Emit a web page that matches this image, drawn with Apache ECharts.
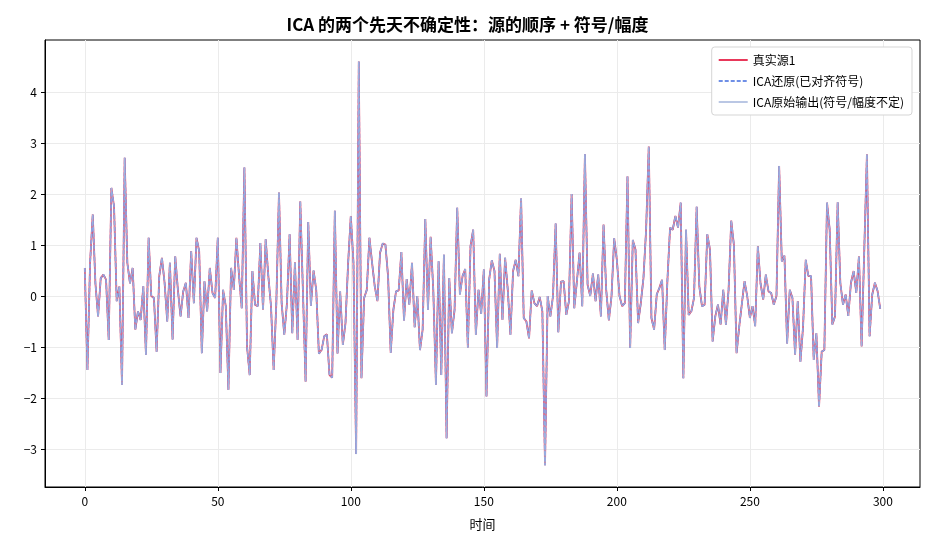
<!DOCTYPE html>
<html>
<head>
<meta charset="utf-8">
<script src="https://cdn.jsdelivr.net/npm/echarts@6/dist/echarts.min.js"></script>
<style>
  html, body { margin: 0; padding: 0; background: #fff; }
  #chart { width: 935px; height: 550px; }
</style>
</head>
<body>
<div id="chart"></div>
<script>
// values; the three curves lie on top of each other there
const trueSource = [
  0.55, -1.45, 0.65, 1.6, 0.25, -0.4, 0.35, 0.42, 0.32, -0.86,
  2.12, 1.76, -0.1, 0.19, -1.74, 2.71, 0.65, 0.25, 0.55, -0.66,
  -0.3, -0.47, 0.19, -1.15, 1.14, 0.0, -0.04, -1.09, 0.39, 0.75,
  0.26, -0.5, 0.65, -0.85, 0.78, 0.12, -0.4, 0.09, 0.26, -0.43,
  0.88, -0.14, 1.14, 0.88, -1.12, 0.29, -0.3, 0.55, 0.06, -0.04,
  1.14, -1.51, 0.12, -0.2, -1.84, 0.55, 0.12, 1.14, 0.39, -0.24,
  2.52, -1.0, -1.55, 0.49, -0.17, -0.2, 1.04, -0.27, 1.11, 0.39,
  -0.2, -1.45, -0.14, 2.03, -0.14, -0.76, -0.14, 1.21, -0.73, 0.66,
  -0.86, 1.86, 0.1, -1.68, 1.45, -0.19, 0.5, 0.12, -1.13, -1.06,
  -0.79, -0.75, -1.55, -1.6, 1.67, -1.13, 0.09, -0.96, -0.53, 0.65,
  1.57, 0.65, -3.1, 4.6, -1.61, -0.04, 0.12, 1.14, 0.65, 0.19,
  -0.1, 0.85, 1.03, 1.01, 0.39, -1.11, -0.27, 0.09, 0.11, 0.86,
  -0.48, 0.33, -0.17, 0.65, -0.61, 0.0, -1.06, -0.66, 1.51, -0.27,
  1.16, 0.12, -1.74, 0.68, -1.55, 0.81, -2.79, 0.35, -0.73, -0.27,
  1.73, 0.03, 0.39, 0.53, -1.01, 0.98, 1.3, -0.76, 0.12, -0.35,
  0.52, -1.97, 0.32, 0.7, 0.49, -1.02, 0.83, -0.47, 0.75, 0.12,
  -0.76, 0.49, 0.71, 0.39, 1.91, -0.43, -0.5, -0.83, 0.11, -0.14,
  -0.2, -0.02, -0.3, -3.32, 0.0, -0.4, 0.0, 1.42, -0.71, 0.28,
  0.29, -0.37, -0.1, 2.0, -0.24, 0.3, 0.85, -0.2, 2.78, 0.22,
  0.0, 0.44, -0.1, 0.42, -0.4, 1.4, 0.12, -0.48, 0.0, 1.13,
  0.71, 0.0, -0.2, -0.14, 2.35, -1.02, 1.1, 0.91, -0.53, -0.14,
  0.35, 1.3, 2.93, -0.43, -0.66, 0.03, 0.16, 0.32, -1.06, 0.3,
  1.34, 1.3, 1.57, 1.34, 1.83, -1.61, 1.3, -0.37, -0.3, -0.04,
  1.75, 0.19, -0.2, -0.17, 1.21, 0.91, -0.89, -0.4, -0.17, -0.56,
  0.12, -0.56, 0.12, 1.48, 1.0, -1.12, -0.6, -0.15, 0.29, 0.0,
  -0.43, -0.2, -0.59, 0.98, 0.25, -0.07, 0.42, 0.09, 0.06, -0.17,
  0.0, 2.55, 0.68, 0.79, -0.93, 0.12, -0.04, -1.15, -0.1, -1.29,
  -0.6, 0.71, 0.39, 0.39, -1.25, -0.73, -2.17, -1.09, -1.06, 1.83,
  1.3, -0.56, -0.4, 1.84, 0.26, -0.17, 0.03, -0.39, 0.26, 0.49,
  0.06, 0.78, -0.99, 0.9, 2.78, -0.79, 0.03, 0.26, 0.1, -0.25
]
// the restored and the raw ICA output can't be told apart from the source in the picture
const icaRestored = trueSource.slice()
const icaRaw = trueSource.slice()

const xTicks = [0, 50, 100, 150, 200, 250, 300]
const yTicks = [-3, -2, -1, 0, 1, 2, 3, 4]

const seriesNames = ["真实源1", "ICA还原(已对齐符号)", "ICA原始输出(符号/幅度不定)"]
const titleText = "ICA 的两个先天不确定性：源的顺序 + 符号/幅度"

const toPairs = (arr) => arr.map((v, i) => [i, v])
const minus = (v) => String(v).replace("-", "\u2212")

const font = "'Noto Sans CJK SC', 'Noto Sans', sans-serif"
const chart = echarts.init(document.getElementById("chart"))

const options = {
  animation: false,
  backgroundColor: "#fff",
  textStyle: { fontFamily: font },
  title: {
    text: titleText,
    left: "center",
    top: 11,
    textStyle: { fontFamily: font, fontSize: 17, fontWeight: "bold", color: "#000" }
  },
  grid: {
    left: 45,
    right: 15,
    top: 40,
    bottom: 63,
    show: true,
    borderColor: "#000",
    borderWidth: 1,
    backgroundColor: "transparent"
  },
  legend: {
    orient: "vertical",
    right: 23,
    top: 47,
    padding: [7, 8, 7, 6],
    itemWidth: 29,
    itemHeight: 12,
    itemGap: 9,
    backgroundColor: "#fff",
    borderColor: "#d5d5d5",
    borderWidth: 1,
    borderRadius: 3,
    itemStyle: { opacity: 0 },
    textStyle: { fontFamily: font, fontSize: 12, color: "#000" },
    data: seriesNames
  },
  xAxis: {
    type: "value",
    min: -14.95,
    max: 313.95,
    name: "时间",
    nameLocation: "middle",
    nameGap: 31,
    nameTextStyle: { fontFamily: font, fontSize: 13, color: "#000" },
    axisLine: { show: true, onZero: false, lineStyle: { color: "#000" } },
    axisTick: { show: true, length: 4, customValues: xTicks, lineStyle: { color: "#000" } },
    axisLabel: { customValues: xTicks, color: "#000", fontSize: 12, margin: 8, formatter: minus },
    splitLine: { show: true, lineStyle: { color: "#ebebeb", width: 1 } }
  },
  yAxis: {
    type: "value",
    min: -3.745,
    max: 5.02,
    axisLine: { show: true, onZero: false, lineStyle: { color: "#000" } },
    axisTick: { show: true, length: 4, customValues: yTicks, lineStyle: { color: "#000" } },
    axisLabel: { customValues: yTicks, color: "#000", fontSize: 12, margin: 8, formatter: minus },
    splitLine: { show: true, lineStyle: { color: "#ebebeb", width: 1 } }
  },
  series: [
    {
      name: seriesNames[0],
      type: "line",
      symbol: "none",
      data: toPairs(trueSource),
      itemStyle: { color: "#e8385a" },
      lineStyle: { color: "#e8385a", width: 1.8 },
      z: 2
    },
    {
      name: seriesNames[1],
      type: "line",
      symbol: "none",
      data: toPairs(icaRestored),
      itemStyle: { color: "#6f8fe6" },
      lineStyle: { color: "#6f8fe6", width: 1.6, type: [4, 2] },
      z: 3
    },
    {
      name: seriesNames[2],
      type: "line",
      symbol: "none",
      data: toPairs(icaRaw),
      itemStyle: { color: "#a9b9dd" },
      lineStyle: { color: "#a9b9dd", width: 1, opacity: 0.8 },
      z: 4
    }
  ]
}

chart.setOption(options)
</script>
</body>
</html>
